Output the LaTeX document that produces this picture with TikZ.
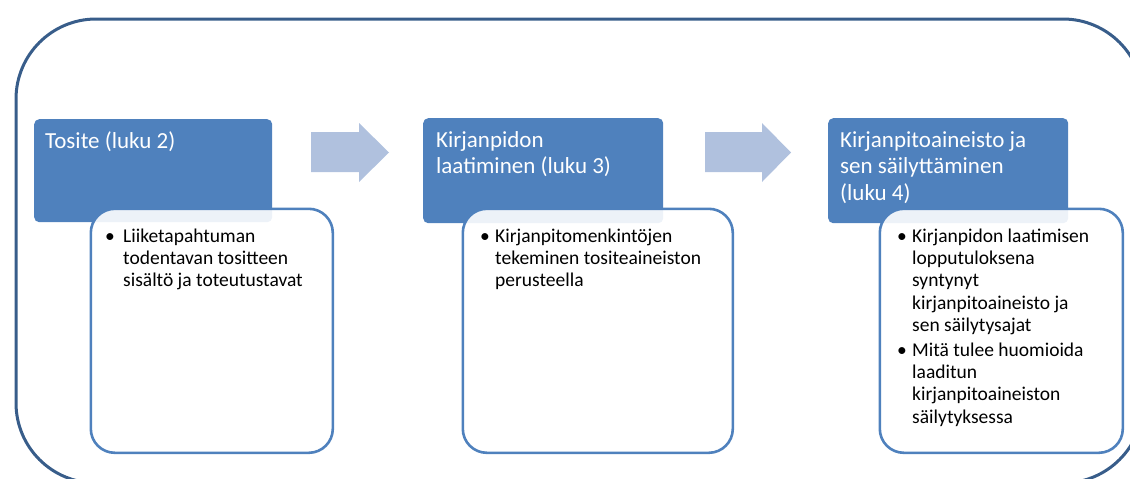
\documentclass[tikz,border=0pt]{standalone}
\usepackage{fontspec}
\setmainfont{Carlito}
\definecolor{accent}{RGB}{79,129,189}
\definecolor{outerblue}{RGB}{56,93,138}
\definecolor{arrowblue}{RGB}{176,193,222}
\newcommand\mybul[1]{\makebox[#1][l]{•}}
\newcommand\myind[1]{\hspace*{#1}}
\newcommand\mylines[1]{\begin{tabular}[t]{@{}l@{}}#1\end{tabular}}
\begin{document}
\begin{tikzpicture}[x=1pt,y=-1pt,
  framebox/.style={draw=outerblue, line width=3pt, rounded corners=80pt, inner sep=0, anchor=north west},
  head/.style={fill=accent, rounded corners=5pt, draw=none, inner sep=0, anchor=north west},
  detail/.style={draw=accent, line width=2.6pt, fill=white, fill opacity=0.9, draw opacity=1, rounded corners=24pt, anchor=north west, inner sep=0},
  headtext/.style={text=white, font=\fontsize{23}{26.5}\selectfont, anchor=base west, inner sep=0},
  bodytext/.style={text=black, font=\fontsize{19.5}{22.4}\selectfont, anchor=base west, inner sep=0},
  blockarrow/.style={fill=arrowblue, draw=none}
]
\useasboundingbox (0,0) rectangle (1130,479);
\clip (0,0) rectangle (1130,479);
% outer frame
\node[framebox, minimum width=1127pt, minimum height=464pt] (frame) at (14.5,17.5) {};
% headers
\node[head, minimum width=238pt, minimum height=103pt] (h1) at (34,119) {};
\node[head, minimum width=240pt, minimum height=105pt] (h2) at (423,118) {};
\node[head, minimum width=240pt, minimum height=105pt] (h3) at (828,118) {};
% block arrows
\fill[blockarrow] (311,132) -- (359,132) -- (359,123) -- (389,152.5) -- (359,182) -- (359,172) -- (311,172) -- cycle;
\fill[blockarrow] (705,132) -- (762,132) -- (762,123) -- (791,152.5) -- (762,182) -- (762,172) -- (705,172) -- cycle;
% detail boxes
\node[detail, minimum width=242pt, minimum height=244pt] (d1) at (89.5,207.5) {};
\node[detail, minimum width=270pt, minimum height=244pt] (d2) at (461.5,207.5) {};
\node[detail, minimum width=243pt, minimum height=244pt] (d3) at (878.5,207.5) {};
% header texts
\node[headtext] (t1) at (45,148) {\mylines{Tosite (luku 2)}};
\node[headtext] (t2) at (436,147) {\mylines{Kirjanpidon\\laatiminen (luku 3)}};
\node[headtext] (t3) at (840,147) {\mylines{Kirjanpitoaineisto ja\\sen säilyttäminen\\(luku 4)}};
% body texts
\node[bodytext] (b1) at (105,242) {\mylines{\mybul{18pt}Liiketapahtuman\\\myind{18pt}todentavan tositteen\\\myind{18pt}sisältö ja toteutustavat}};
\node[bodytext] (b2) at (480,242) {\mylines{\mybul{15pt}Kirjanpitomenkintöjen\\\myind{15pt}tekeminen tositeaineiston\\\myind{15pt}perusteella}};
\node[bodytext] (b3) at (897,242) {\mylines{\mybul{15pt}Kirjanpidon laatimisen\\\myind{15pt}lopputuloksena\\\myind{15pt}syntynyt\\\myind{15pt}kirjanpitoaineisto ja\\\myind{15pt}sen säilytysajat\\[2pt]\mybul{15pt}Mitä tulee huomioida\\\myind{15pt}laaditun\\\myind{15pt}kirjanpitoaineiston\\\myind{15pt}säilytyksessa}};
\end{tikzpicture}
\end{document}
